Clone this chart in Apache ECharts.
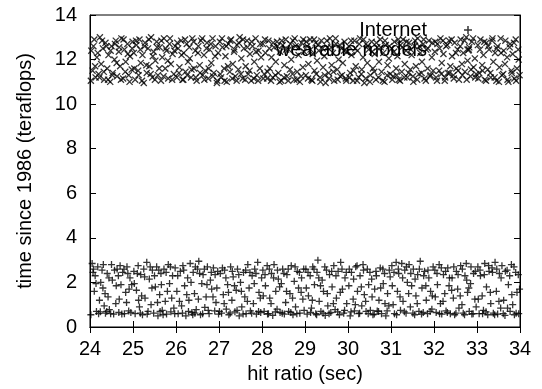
<!DOCTYPE html>
<html>
<head>
<meta charset="utf-8">
<script src="https://cdn.jsdelivr.net/npm/echarts@6/dist/echarts.min.js"></script>
<style>
  html, body { margin: 0; padding: 0; background: #fff; }
  #chart { width: 542px; height: 389px; }
</style>
</head>
<body>
<div id="chart"></div>
<script>
// axis ranges / ticks
const xMin = 24, xMax = 34, xStep = 1;
const yMin = 0, yMax = 14, yStep = 2;

const seriesNames = ["Internet", "wearable models"];

// "+" points, lower band
const internetPoints = [
  [24.05,2.85],[24.08,2.6],[24.12,2.3],[24.1,1.6],[24.15,0.7],[24.2,0.6],[24.22,1.2],[24.25,2.0],[24.28,2.55],[24.3,1.75],
  [24.33,0.95],[24.36,0.62],[24.4,2.4],[24.42,1.35],[24.45,0.78],[24.5,2.8],[24.52,2.1],[24.55,0.58],[24.6,1.05],[24.63,2.6],
  [24.67,0.65],[24.7,2.75],[24.72,1.9],[24.76,2.45],[24.8,0.6],[24.83,1.55],[24.86,2.7],[24.9,0.72],[24.93,2.2],[24.97,1.9],
  [25.02,2.5],[25.05,0.6],[25.08,1.65],[25.12,2.75],[25.15,0.9],[25.18,2.35],[25.22,0.55],[25.25,2.6],[25.28,1.3],[25.32,2.9],
  [25.35,0.7],[25.38,2.15],[25.42,1.0],[25.45,2.55],[25.48,0.62],[25.52,1.8],[25.55,2.7],[25.58,0.5],[25.62,1.45],[25.65,2.4],
  [25.68,0.75],[25.72,2.6],[25.75,1.15],[25.78,0.58],[25.82,2.8],[25.85,1.95],[25.88,0.68],[25.92,2.3],[25.95,0.85],[25.98,2.65],
  [26.02,1.6],[26.05,0.6],[26.1,2.5],[26.13,0.95],[26.16,2.75],[26.2,1.85],[26.23,0.5],[26.27,2.2],[26.3,1.2],[26.33,2.85],
  [26.37,0.65],[26.4,2.45],[26.43,1.5],[26.47,0.78],[26.5,2.6],[26.53,2.95],[26.57,0.55],[26.6,1.95],[26.63,2.35],[26.67,0.88],
  [26.7,1.35],[26.73,2.7],[26.77,0.6],[26.8,2.1],[26.83,1.7],[26.87,2.65],[26.9,0.72],[26.93,1.1],[26.97,2.5],[26.99,0.58],
  [27.03,2.4],[27.06,0.62],[27.1,1.45],[27.13,2.55],[27.17,0.8],[27.2,1.9],[27.23,0.55],[27.27,2.7],[27.3,1.2],[27.33,2.25],
  [27.37,0.68],[27.4,1.65],[27.43,2.6],[27.47,0.5],[27.5,2.0],[27.53,0.9],[27.57,2.45],[27.6,1.35],[27.63,0.6],[27.67,2.8],
  [27.7,1.75],[27.73,0.72],[27.77,2.3],[27.8,1.05],[27.83,2.6],[27.87,0.58],[27.9,2.9],[27.93,1.55],[27.97,0.65],[27.99,2.2],
  [28.02,2.55],[28.05,0.7],[28.08,1.85],[28.12,2.75],[28.15,0.6],[28.18,1.3],[28.22,2.4],[28.25,0.52],[28.28,2.8],[28.32,1.6],
  [28.35,0.8],[28.38,2.15],[28.42,0.65],[28.45,1.95],[28.48,2.6],[28.52,0.58],[28.55,1.1],[28.58,2.35],[28.62,0.7],[28.65,1.5],
  [28.68,2.75],[28.72,0.55],[28.75,2.05],[28.78,0.9],[28.82,2.5],[28.85,1.75],[28.88,0.62],[28.92,2.2],[28.95,1.25],[28.98,0.75],
  [29.02,2.6],[29.05,0.58],[29.08,1.4],[29.12,2.3],[29.15,0.85],[29.18,2.7],[29.22,1.9],[29.25,0.6],[29.28,2.45],[29.3,3.0],
  [29.33,1.15],[29.37,0.7],[29.4,2.1],[29.43,1.6],[29.47,0.52],[29.5,2.55],[29.53,0.95],[29.57,2.35],[29.6,0.65],[29.63,1.8],
  [29.67,2.75],[29.7,0.78],[29.73,1.3],[29.77,2.5],[29.8,0.55],[29.83,2.9],[29.87,1.7],[29.9,0.62],[29.93,2.2],[29.97,1.05],
  [30.02,1.85],[30.05,0.5],[30.08,2.45],[30.12,1.25],[30.15,0.72],[30.18,2.7],[30.22,1.6],[30.25,0.6],[30.28,2.3],[30.32,0.95],
  [30.35,2.8],[30.38,1.45],[30.42,0.7],[30.45,2.6],[30.48,1.9],[30.52,0.75],[30.55,2.15],[30.58,0.55],[30.62,1.7],[30.65,2.5],
  [30.68,0.72],[30.72,1.2],[30.75,2.65],[30.78,0.6],[30.82,1.95],[30.85,2.4],[30.88,0.5],[30.92,1.5],[30.95,0.95],[30.98,2.25],
  [31.02,2.75],[31.05,1.0],[31.08,0.6],[31.12,2.9],[31.15,1.6],[31.18,2.4],[31.22,0.75],[31.25,2.85],[31.28,1.15],[31.32,2.55],
  [31.35,0.62],[31.38,2.0],[31.42,2.8],[31.45,0.9],[31.48,1.85],[31.52,2.6],[31.55,0.55],[31.58,1.4],[31.62,2.35],[31.65,0.7],
  [31.68,2.95],[31.72,1.75],[31.75,0.65],[31.78,2.5],[31.82,1.2],[31.85,0.6],[31.88,2.2],[31.92,1.6],[31.95,0.8],[31.98,2.7],
  [32.02,2.55],[32.05,0.65],[32.08,1.9],[32.12,2.8],[32.15,1.05],[32.18,0.58],[32.22,2.35],[32.25,1.5],[32.28,0.72],[32.32,2.65],
  [32.35,1.85],[32.38,0.6],[32.42,2.2],[32.45,1.3],[32.48,0.55],[32.52,2.5],[32.55,1.7],[32.58,0.85],[32.62,2.75],[32.65,1.0],
  [32.68,0.62],[32.72,2.3],[32.75,2.85],[32.78,1.55],[32.82,0.7],[32.85,1.95],[32.88,0.58],[32.92,2.4],[32.95,1.25],[32.98,0.9],
  [33.02,2.7],[33.05,0.6],[33.08,2.3],[33.12,1.4],[33.15,0.75],[33.18,2.85],[33.22,1.8],[33.25,0.55],[33.28,2.5],[33.32,1.05],
  [33.35,2.65],[33.38,0.62],[33.42,2.9],[33.45,1.6],[33.48,0.58],[33.52,2.4],[33.55,0.85],[33.58,2.75],[33.62,1.2],[33.65,0.52],
  [33.7,2.55],[33.73,1.9],[33.77,0.7],[33.8,2.8],[33.83,1.0],[33.87,0.55],[33.9,2.45],[33.93,1.55],[33.97,0.6],[33.99,1.7],
  // second pass over the band
  [24.02,0.55],[24.07,2.45],[24.14,1.95],[24.18,2.7],[24.24,0.68],[24.31,2.8],[24.35,1.5],[24.44,2.2],[24.48,0.6],[24.57,2.55],
  [24.61,1.85],[24.66,2.3],[24.74,0.58],[24.79,2.6],[24.85,1.1],[24.88,2.4],[24.95,0.65],[24.91,1.7],[24.68,1.25],[24.39,0.7],
  [25.03,1.95],[25.1,2.4],[25.17,0.62],[25.2,1.4],[25.27,2.25],[25.33,0.58],[25.4,2.7],[25.44,1.75],[25.5,2.3],[25.57,1.1],
  [25.6,2.55],[25.66,1.9],[25.7,0.55],[25.77,2.45],[25.8,1.6],[25.87,2.7],[25.9,1.3],[25.97,0.6],[25.13,1.2],[25.63,0.7],
  [26.04,2.3],[26.08,1.15],[26.15,0.62],[26.18,2.55],[26.25,1.45],[26.29,0.7],[26.35,2.0],[26.39,0.55],[26.45,2.7],[26.52,1.25],
  [26.55,2.4],[26.62,0.6],[26.66,2.6],[26.72,1.9],[26.75,0.75],[26.82,2.45],[26.86,1.35],[26.91,2.35],[26.95,1.75],[26.44,0.62],
  [27.01,0.7],[27.08,2.65],[27.12,1.05],[27.16,2.2],[27.22,1.55],[27.26,0.62],[27.31,2.5],[27.36,1.85],[27.42,0.75],[27.46,2.35],
  [27.52,1.6],[27.56,0.58],[27.62,2.55],[27.66,1.15],[27.72,2.45],[27.76,0.62],[27.82,1.95],[27.86,2.4],[27.92,0.7],[27.96,1.3],
  [28.03,1.4],[28.07,2.35],[28.13,0.58],[28.17,2.6],[28.21,1.05],[28.27,2.2],[28.31,0.68],[28.36,2.55],[28.41,1.8],[28.47,0.62],
  [28.51,2.4],[28.57,1.6],[28.61,2.6],[28.67,0.65],[28.71,1.3],[28.77,2.7],[28.81,0.6],[28.87,2.45],[28.91,1.55],[28.97,2.6],
  [29.03,1.75],[29.07,2.45],[29.13,0.65],[29.17,1.2],[29.21,2.6],[29.27,0.55],[29.32,2.2],[29.36,1.85],[29.42,0.62],[29.46,2.7],
  [29.52,1.5],[29.56,0.6],[29.62,2.5],[29.66,1.05],[29.72,2.3],[29.76,0.68],[29.82,1.55],[29.86,2.6],[29.92,0.75],[29.96,2.45],
  [30.03,2.6],[30.07,0.68],[30.13,2.15],[30.17,1.0],[30.21,2.75],[30.27,0.62],[30.31,1.8],[30.36,2.55],[30.41,1.15],[30.47,0.6],
  [30.51,2.45],[30.56,1.35],[30.61,0.58],[30.66,2.3],[30.71,0.7],[30.76,1.75],[30.81,2.6],[30.86,1.05],[30.91,0.72],[30.96,2.55],
  [31.03,1.85],[31.07,2.45],[31.13,0.55],[31.17,2.6],[31.21,1.35],[31.27,2.2],[31.31,0.68],[31.36,2.7],[31.41,1.5],[31.46,2.4],
  [31.51,0.62],[31.56,2.15],[31.61,1.05],[31.66,2.6],[31.71,0.58],[31.76,2.3],[31.81,1.85],[31.86,2.55],[31.91,0.7],[31.96,1.4],
  [32.03,1.35],[32.07,2.4],[32.13,0.6],[32.17,2.65],[32.21,1.15],[32.27,2.5],[32.31,0.65],[32.36,2.2],[32.41,1.65],[32.46,2.7],
  [32.51,0.62],[32.56,2.35],[32.61,1.4],[32.66,2.6],[32.71,0.55],[32.76,2.1],[32.81,1.75],[32.86,2.7],[32.91,0.6],[32.96,2.5],
  [33.03,1.25],[33.07,2.55],[33.13,0.6],[33.17,2.35],[33.21,0.68],[33.27,2.75],[33.31,1.55],[33.36,2.45],[33.41,0.55],[33.46,2.6],
  [33.51,1.15],[33.56,2.2],[33.61,0.6],[33.66,2.5],[33.71,0.85],[33.76,2.3],[33.81,1.45],[33.86,2.7],[33.91,0.62],[33.96,2.35]
];

// "x" points, upper band
const wearablePoints = [
  [24.03,12.4],[24.06,11.5],[24.1,12.9],[24.13,11.2],[24.16,12.1],[24.2,11.35],[24.23,13.0],[24.26,11.8],[24.3,12.5],[24.33,11.1],
  [24.36,12.75],[24.4,11.6],[24.43,12.2],[24.47,11.0],[24.5,12.6],[24.53,11.4],[24.57,12.0],[24.6,12.85],[24.63,11.25],[24.67,12.35],
  [24.7,11.7],[24.73,12.95],[24.77,11.15],[24.8,12.45],[24.83,11.9],[24.87,12.7],[24.9,11.3],[24.93,12.15],[24.97,11.55],[24.99,12.8],
  [25.02,12.3],[25.05,11.1],[25.08,12.65],[25.12,11.5],[25.15,12.9],[25.18,11.85],[25.22,12.2],[25.25,10.95],[25.28,12.75],[25.32,11.4],
  [25.35,12.5],[25.38,11.7],[25.42,13.0],[25.45,11.2],[25.48,12.35],[25.52,11.95],[25.55,12.8],[25.58,11.3],[25.62,12.55],[25.65,11.05],
  [25.68,12.1],[25.72,12.95],[25.75,11.6],[25.78,12.4],[25.82,11.15],[25.85,12.7],[25.88,11.8],[25.92,12.25],[25.95,11.35],[25.98,12.6],
  [26.02,11.2],[26.05,12.5],[26.08,11.65],[26.12,12.85],[26.15,11.1],[26.18,12.3],[26.22,11.45],[26.25,12.7],[26.28,11.9],[26.32,12.05],
  [26.35,11.2],[26.38,12.95],[26.42,11.6],[26.45,12.4],[26.48,11.05],[26.52,12.6],[26.55,11.75],[26.58,12.85],[26.62,11.3],[26.65,12.2],
  [26.68,11.5],[26.72,12.75],[26.75,11.15],[26.78,12.45],[26.82,11.85],[26.85,12.95],[26.88,11.4],[26.92,12.6],[26.95,10.95],[26.98,12.3],
  [27.02,12.8],[27.05,11.2],[27.08,12.55],[27.12,11.6],[27.15,12.15],[27.18,11.0],[27.22,12.7],[27.25,11.45],[27.28,12.9],[27.32,11.8],
  [27.35,12.35],[27.38,11.25],[27.42,12.65],[27.45,11.55],[27.48,13.0],[27.52,12.05],[27.55,11.15],[27.58,12.5],[27.62,11.7],[27.65,12.85],
  [27.68,11.35],[27.72,12.25],[27.75,11.05],[27.78,12.6],[27.82,11.9],[27.85,12.95],[27.88,11.3],[27.92,12.4],[27.95,11.6],[27.98,12.1],
  [28.02,12.7],[28.05,11.35],[28.08,12.3],[28.12,11.15],[28.15,12.85],[28.18,11.6],[28.22,12.1],[28.25,11.2],[28.28,12.55],[28.32,11.9],
  [28.35,12.8],[28.38,11.4],[28.42,12.35],[28.45,11.05],[28.48,12.65],[28.52,11.75],[28.55,12.9],[28.58,11.25],[28.62,12.45],[28.65,11.55],
  [28.68,12.0],[28.72,12.85],[28.75,11.1],[28.78,12.6],[28.82,11.45],[28.85,12.2],[28.88,11.0],[28.92,12.75],[28.95,11.65],[28.98,12.35],
  [29.02,11.3],[29.05,12.6],[29.08,11.8],[29.12,12.9],[29.15,11.1],[29.18,12.25],[29.22,11.5],[29.25,12.75],[29.28,11.95],[29.32,12.4],
  [29.35,11.2],[29.38,12.85],[29.42,11.65],[29.45,12.15],[29.48,10.95],[29.52,12.55],[29.55,11.4],[29.58,12.95],[29.62,11.75],[29.65,12.3],
  [29.68,11.05],[29.72,12.7],[29.75,11.55],[29.78,12.0],[29.82,11.25],[29.85,12.5],[29.88,11.85],[29.92,12.8],[29.95,11.15],[29.98,12.35],
  [30.02,12.6],[30.05,11.4],[30.08,12.2],[30.12,11.05],[30.15,12.85],[30.18,11.7],[30.22,12.4],[30.25,11.2],[30.28,12.95],[30.32,11.55],
  [30.35,12.1],[30.38,10.95],[30.42,12.7],[30.45,11.85],[30.48,12.45],[30.52,11.3],[30.55,12.8],[30.58,11.6],[30.62,12.25],[30.65,11.1],
  [30.68,12.55],[30.72,11.9],[30.75,12.9],[30.78,11.45],[30.82,12.3],[30.85,11.0],[30.88,12.65],[30.92,11.75],[30.95,12.05],[30.98,11.35],
  [31.02,12.5],[31.05,11.25],[31.08,12.8],[31.12,11.6],[31.15,12.15],[31.18,11.1],[31.22,12.65],[31.25,11.45],[31.28,12.9],[31.32,11.8],
  [31.35,12.4],[31.38,11.2],[31.42,12.75],[31.45,11.55],[31.48,12.2],[31.52,11.0],[31.55,12.6],[31.58,11.7],[31.62,12.95],[31.65,11.35],
  [31.68,12.3],[31.72,11.9],[31.75,12.7],[31.78,11.15],[31.82,12.45],[31.85,11.6],[31.88,12.85],[31.92,11.3],[31.95,12.1],[31.98,11.5],
  [32.02,12.35],[32.05,11.2],[32.08,12.7],[32.12,11.5],[32.15,12.95],[32.18,11.85],[32.22,12.25],[32.25,11.05],[32.28,12.6],[32.32,11.4],
  [32.35,12.85],[32.38,11.7],[32.42,12.15],[32.45,11.3],[32.48,12.75],[32.52,11.6],[32.55,12.45],[32.58,11.1],[32.62,12.9],[32.65,11.8],
  [32.68,12.3],[32.72,11.45],[32.75,13.0],[32.78,11.95],[32.82,12.55],[32.85,11.25],[32.88,12.8],[32.92,11.65],[32.95,12.05],[32.98,11.35],
  [33.02,12.65],[33.05,11.4],[33.08,12.9],[33.12,11.75],[33.15,12.2],[33.18,11.1],[33.22,12.75],[33.25,11.55],[33.28,12.45],[33.32,11.2],
  [33.35,12.85],[33.38,11.9],[33.42,12.3],[33.45,11.05],[33.48,12.6],[33.52,11.65],[33.55,12.95],[33.58,11.3],[33.62,12.4],[33.65,11.8],
  [33.7,12.1],[33.73,11.0],[33.77,12.7],[33.8,11.5],[33.83,12.25],[33.87,11.15],[33.9,12.9],[33.93,11.6],[33.97,12.0],[33.99,11.3],
  // second pass over the band
  [24.02,11.05],[24.08,12.6],[24.12,11.7],[24.18,12.3],[24.22,11.2],[24.28,12.85],[24.32,11.45],[24.38,12.6],[24.42,11.1],[24.48,12.4],
  [24.52,11.3],[24.58,12.7],[24.62,11.85],[24.68,12.55],[24.72,11.1],[24.78,12.9],[24.82,11.45],[24.88,12.25],[24.92,11.0],[24.98,12.5],
  [25.03,11.6],[25.07,12.85],[25.13,11.3],[25.17,12.45],[25.21,11.05],[25.27,12.6],[25.31,11.75],[25.37,12.9],[25.41,11.35],[25.46,12.15],
  [25.51,11.1],[25.56,12.55],[25.61,11.6],[25.66,12.85],[25.71,11.25],[25.76,12.5],[25.81,11.95],[25.86,12.95],[25.91,11.1],[25.96,12.4],
  [26.03,12.75],[26.07,11.4],[26.13,12.2],[26.17,11.1],[26.21,12.9],[26.26,11.3],[26.31,12.55],[26.36,11.55],[26.41,12.8],[26.46,11.2],
  [26.51,12.3],[26.56,11.4],[26.61,12.95],[26.66,11.1],[26.71,12.5],[26.76,11.6],[26.81,12.7],[26.86,11.25],[26.91,12.15],[26.96,11.05],
  [27.03,11.35],[27.07,12.95],[27.13,11.05],[27.17,12.6],[27.21,11.7],[27.26,12.85],[27.31,11.15],[27.36,12.45],[27.41,11.05],[27.46,12.75],
  [27.51,11.35],[27.56,12.9],[27.61,11.1],[27.66,12.55],[27.71,11.5],[27.76,12.8],[27.81,11.15],[27.86,12.35],[27.91,11.05],[27.96,12.7],
  [28.03,11.15],[28.07,12.9],[28.13,11.45],[28.17,12.5],[28.21,11.05],[28.26,12.75],[28.31,11.3],[28.36,12.6],[28.41,11.0],[28.46,12.85],
  [28.51,11.2],[28.56,12.45],[28.61,11.05],[28.66,12.7],[28.71,11.35],[28.76,12.95],[28.81,11.1],[28.86,12.55],[28.91,11.25],[28.96,12.9],
  [29.03,12.8],[29.07,11.15],[29.13,12.45],[29.17,11.05],[29.21,12.9],[29.26,11.35],[29.31,12.65],[29.36,11.0],[29.41,12.5],[29.46,11.3],
  [29.51,12.85],[29.56,11.15],[29.61,12.55],[29.66,11.45],[29.71,12.95],[29.76,11.1],[29.81,12.65],[29.86,11.3],[29.91,12.4],[29.96,11.05],
  [30.03,11.2],[30.07,12.85],[30.13,11.5],[30.17,12.5],[30.21,11.05],[30.26,12.7],[30.31,11.35],[30.36,12.9],[30.41,11.15],[30.46,12.6],
  [30.51,11.0],[30.56,12.35],[30.61,11.45],[30.66,12.75],[30.71,11.2],[30.76,12.55],[30.81,11.05],[30.86,12.85],[30.91,11.3],[30.96,12.6],
  [31.03,11.1],[31.07,12.35],[31.13,11.3],[31.17,12.9],[31.21,11.05],[31.26,12.55],[31.31,11.2],[31.36,12.8],[31.41,11.4],[31.46,12.45],
  [31.51,11.25],[31.56,12.85],[31.61,11.1],[31.66,12.6],[31.71,11.4],[31.76,12.9],[31.81,11.05],[31.86,12.5],[31.91,11.25],[31.96,12.75],
  [32.03,12.8],[32.07,11.05],[32.13,12.5],[32.17,11.35],[32.21,12.85],[32.26,11.2],[32.31,12.65],[32.36,11.4],[32.41,12.9],[32.46,11.15],
  [32.51,12.3],[32.56,11.5],[32.61,12.6],[32.66,11.3],[32.71,12.85],[32.76,11.1],[32.81,12.45],[32.86,11.55],[32.91,12.95],[32.96,11.2],
  [33.03,11.15],[33.07,12.45],[33.13,11.5],[33.17,12.8],[33.21,11.05],[33.26,12.6],[33.31,11.4],[33.36,12.95],[33.41,11.2],[33.46,12.5],
  [33.51,11.0],[33.56,12.3],[33.61,11.35],[33.66,12.85],[33.71,11.1],[33.76,12.55],[33.81,11.4],[33.86,12.75],[33.91,11.05],[33.96,12.45]
];

// gnuplot-like point shapes (slightly heavier strokes)
const plusIcon = "path://M2.85,0h1.3v7h-1.3zM0,2.85h7v1.3h-7z";
const crossIcon = "path://M0,0.9L0.9,0L7,6.1L6.1,7ZM6.1,0L7,0.9L0.9,7L0,6.1Z";

const chart = echarts.init(document.getElementById("chart"));
const FONT = "Liberation Sans, Arial, sans-serif";

const tickStyle = { inside: true, length: 6, lineStyle: { color: "#000", width: 1 } };
const lineStyle = { show: true, lineStyle: { color: "#000", width: 1 } };

chart.setOption({
  animation: false,
  backgroundColor: "#fff",
  grid: { left: 90, right: 22, top: 15, bottom: 62, show: true, borderColor: "#000", borderWidth: 1 },
  legend: {
    orient: "vertical",
    right: 70,
    top: 20,
    align: "right",
    itemWidth: 8,
    itemHeight: 8,
    itemGap: 0,
    padding: 0,
    textStyle: { fontSize: 20, color: "#000", fontFamily: FONT, padding: [0, 32, 0, 0] },
    data: [
      { name: seriesNames[0], icon: plusIcon },
      { name: seriesNames[1], icon: crossIcon },
    ],
  },
  xAxis: [
    {
      type: "value", min: xMin, max: xMax, interval: xStep,
      name: "hit ratio (sec)", nameLocation: "middle", nameGap: 37,
      nameTextStyle: { fontSize: 20, color: "#000", fontFamily: FONT },
      axisLine: lineStyle, axisTick: tickStyle, splitLine: { show: false },
      axisLabel: { fontSize: 20, color: "#000", fontFamily: FONT, margin: 12 },
    },
    {
      type: "value", position: "top", min: xMin, max: xMax, interval: xStep,
      axisLine: lineStyle, axisTick: tickStyle, splitLine: { show: false }, axisLabel: { show: false },
    },
  ],
  yAxis: [
    {
      type: "value", min: yMin, max: yMax, interval: yStep,
      name: "time since 1986 (teraflops)", nameLocation: "middle", nameGap: 55,
      nameTextStyle: { fontSize: 20, color: "#000", fontFamily: FONT },
      axisLine: lineStyle, axisTick: tickStyle, splitLine: { show: false },
      axisLabel: { fontSize: 20, color: "#000", fontFamily: FONT, margin: 13 },
    },
    {
      type: "value", position: "right", min: yMin, max: yMax, interval: yStep,
      axisLine: lineStyle, axisTick: tickStyle, splitLine: { show: false }, axisLabel: { show: false },
    },
  ],
  series: [
    {
      name: seriesNames[0],
      type: "scatter",
      symbol: plusIcon,
      symbolSize: 7,
      itemStyle: { color: "#000" },
      data: internetPoints,
    },
    {
      name: seriesNames[1],
      type: "scatter",
      symbol: crossIcon,
      symbolSize: 7,
      itemStyle: { color: "#000" },
      data: wearablePoints,
    },
  ],
});
</script>
</body>
</html>
